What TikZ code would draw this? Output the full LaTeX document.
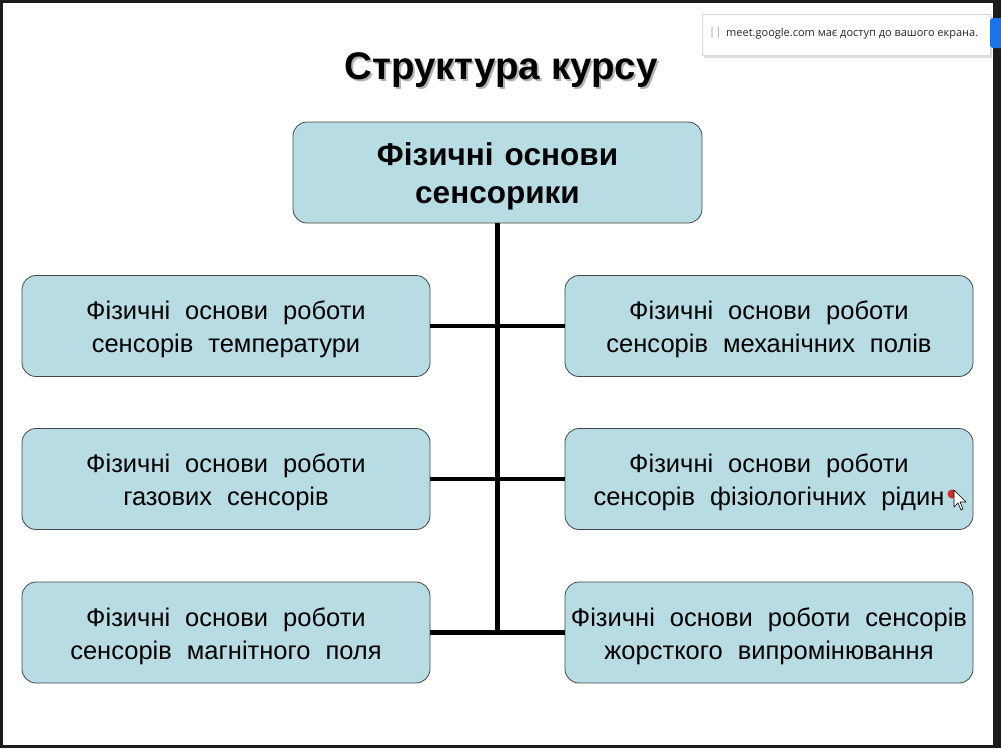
\documentclass[tikz,border=0pt]{standalone}
\usepackage{fontspec}
\setmainfont{Liberation Sans}
\newfontfamily\notefont{Open Sans}
\newcommand\myboxspace{\spaceskip=15pt plus 1pt minus 1pt\relax}
\newcommand\mytopspace{\spaceskip=11pt plus 1pt minus 1pt\relax}
\newcommand\dn[2]{\raisebox{-#1}[\height][\depth]{\begin{tabular}{@{}c@{}}#2\end{tabular}}}
\definecolor{boxfill}{HTML}{B7DCE3}
\definecolor{framedark}{HTML}{1C1C1C}
\definecolor{btnblue}{HTML}{1A73E8}
\begin{document}
\begin{tikzpicture}[x=1pt,y=-1pt,
  box/.style={draw=black!72, line width=0.8pt, fill=boxfill, rounded corners=14pt,
    minimum width=408pt, minimum height=101pt, inner sep=0pt,
    font=\fontsize{25.5}{33}\selectfont\myboxspace},
  topbox/.style={box, minimum width=409pt, font=\bfseries\fontsize{31.5}{38}\selectfont\mytopspace},
  conn/.style={line width=4.5pt}]
\useasboundingbox (0,0) rectangle (1001,748);
\fill[framedark] (0,0) rectangle (1001,748);
\fill[white] (3,3) rectangle (993,745);
% title
\node[text=black!30, font=\bfseries\fontsize{38.5}{44}\selectfont] (tsh) at (503,72) {Структура курсу};
\node[font=\bfseries\fontsize{38.5}{44}\selectfont] (title) at (501,70) {Структура курсу};
% boxes
\node[topbox] (top) at (497.5,172.5) {\dn{4.5pt}{Фізичні основи\\сенсорики}};
\node[box] (l1) at (226,326) {\dn{3.5pt}{Фізичні основи роботи\\сенсорів температури}};
\node[box] (l2) at (226,479) {\dn{3.5pt}{Фізичні основи роботи\\газових сенсорів}};
\node[box] (l3) at (226,632.5) {\dn{3.5pt}{Фізичні основи роботи\\сенсорів магнітного поля}};
\node[box] (r1) at (769,326) {\dn{3.5pt}{Фізичні основи роботи\\сенсорів механічних полів}};
\node[box] (r2) at (769,479) {\dn{3.5pt}{Фізичні основи роботи\\сенсорів фізіологічних рідин}};
\node[box] (r3) at (769,632.5) {\dn{3.5pt}{Фізичні основи роботи сенсорів\\жорсткого випромінювання}};
% connectors
\coordinate (bot) at (497.5,631);
\draw[conn] (top.south) -- (bot);
\draw[conn] (l1.east) -- (r1.west);
\draw[conn] (l2.east) -- (r2.west);
\draw[conn] (l3.east) -- (r3.west);
% cursor
\fill[red!85!black, opacity=0.8] (952,494) circle (4.5pt);
\draw[black, fill=white, line width=0.6pt, line join=round] (954,490) -- (954,507) -- (958,503) -- (961,510) -- (963,509) -- (960,502) -- (966,502) -- cycle;
% notification
\fill[black!12] (704,16) rectangle (992,58);
\node[draw=black!15, fill=white, minimum width=288pt, minimum height=41pt, inner sep=0pt] (note) at (846,34.5) {};
\node[anchor=west, text=black!40, font=\notefont\fontsize{11}{12}\selectfont, inner sep=0pt] (bars) at (709,33) {||};
\node[anchor=west, text=black!85, font=\notefont\fontsize{11}{12}\selectfont, inner sep=0pt] (notetext) at (726,34) {meet.google.com має доступ до вашого екрана.};
\fill[btnblue, rounded corners=3pt] (990,18) rectangle (1006,48);
\end{tikzpicture}
\end{document}
